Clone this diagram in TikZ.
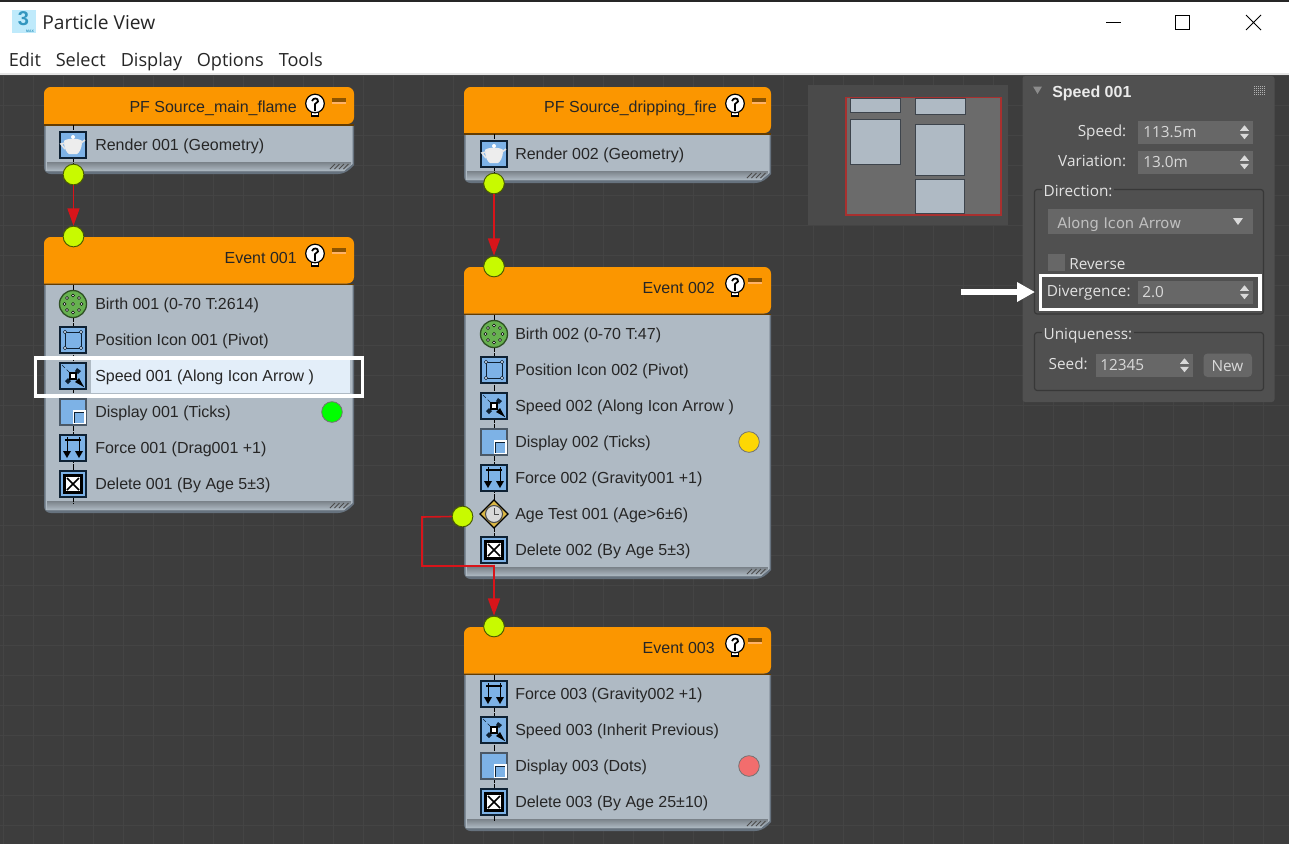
\documentclass[tikz,border=0pt]{standalone}
\usepackage{xcolor}
\usepackage{fontspec}
\setmainfont{Liberation Sans}
\newfontfamily\winfont{Open Sans}
\newfontfamily\rollfont{DejaVu Sans}
\usepackage{tikz}
\usetikzlibrary{arrows.meta}

\definecolor{viewbg}{HTML}{3D3D3D}
\definecolor{viewgrid}{HTML}{444444}
\definecolor{headorange}{HTML}{FB9600}
\definecolor{bodygrey}{HTML}{AFBAC4}
\definecolor{edgegrey}{HTML}{66727E}
\definecolor{portgreen}{HTML}{C8FA00}
\definecolor{iconblue}{HTML}{7DB2E6}
\definecolor{iconline}{HTML}{0E2133}
\definecolor{birthgreen}{HTML}{66B14F}
\definecolor{rowlight}{HTML}{E3EEF9}
\definecolor{mapbg}{HTML}{4A4A4A}
\definecolor{mapfield}{HTML}{6B6B6B}
\definecolor{mapred}{HTML}{A8302F}
\definecolor{rollbg}{HTML}{505050}
\definecolor{spinbg}{HTML}{676767}
\definecolor{rolltext}{HTML}{E2E2E2}
\definecolor{flowred}{HTML}{D8141A}

\tikzset{
	boxtitle/.style={anchor=east,inner sep=0.75pt,xshift=0.75pt,yshift=-1.1pt,font=\fontsize{12}{14}\selectfont,text=black!85},
	rowtext/.style={anchor=west,inner sep=0.75pt,xshift=-0.75pt,yshift=-1.1pt,font=\fontsize{12}{14}\selectfont,text=black!85},
	portdot/.style={circle,draw=black!40!portgreen!60!black,fill=portgreen,line width=0.7pt,minimum size=15.5pt,inner sep=0pt},
	statedot/.style={circle,draw=black!55,fill=#1,line width=0.6pt,minimum size=15.5pt,inner sep=0pt},
	flowline/.style={draw=flowred,line width=1.2pt,-{Triangle[length=13pt,width=9pt]}},
	iconframe/.style={draw=iconline,fill=iconblue,line width=1.5pt},
	markbox/.style={draw=white,line width=2.3pt},
	rolllabel/.style={inner sep=0.75pt,font=\winfont\fontsize{11.5}{14}\selectfont,text=rolltext},
	rollvalue/.style={anchor=base west,inner sep=0.75pt,font=\winfont\fontsize{11.5}{14}\selectfont,text=black!15},
	menutext/.style={anchor=base west,inner sep=0.75pt,font=\winfont\fontsize{13.6}{15}\selectfont,text=black!85},
	spinbox/.style={fill=spinbg},
	groupbox/.style={draw=black!78,rounded corners=2pt,line width=0.9pt},
}

% one flow box: left, top, right, header bottom, bottom
\newcommand{\flowbox}[5]{
	\fill[edgegrey] [rounded corners=5pt] (#1,#4) -- (#1,#5) -- (#3-9,#5) [sharp corners] -- (#3,#5-9) -- (#3,#4) -- cycle;
	\fill[bodygrey] (#1+1.5,#4) -- (#1+1.5,#5-3) -- (#3-10,#5-3) -- (#3-1.5,#5-10) -- (#3-1.5,#4) -- cycle;
	\shade[top color=black!30!bodygrey,bottom color=bodygrey] (#1+3,#5-12) -- (#1+3,#5-3) -- (#3-10,#5-3) -- (#3-3,#5-10) -- (#3-3,#5-12) -- cycle;
	\fill[headorange] [rounded corners=5pt] (#1,#4-1) -- (#1,#2) -- (#3,#2) -- (#3,#4-1) [sharp corners] -- cycle;
	\fill[black!60!headorange] (#1,#4-1) rectangle (#3,#4+0.5);
	\foreach \k in {0,1,2,3}
		\draw[black!70,line width=0.6pt] (#3-24+\k*4.5,#5-5) -- (#3-19+\k*4.5,#5-10);
}
% bulb and minimise mark of a header
\newcommand{\boxmarks}[4]{
	\draw[black,fill=white,line width=1pt] (#1-3.5,#2+4) rectangle (#1+3.5,#2+12);
	\draw[black,fill=white,line width=0.9pt] (#1,#2-0.5) circle (9.3);
	\draw[black,line width=1.3pt] (#1-3,#2-3) .. controls (#1-2,#2-6.5) and (#1+3.5,#2-6.5) .. (#1+3,#2-2.5) -- (#1,#2) -- (#1,#2+7);
	\fill[black!25!headorange!75!black] (#3-7,#4-3) rectangle (#3+7,#4+1);
	\fill[orange!60!white] (#3-7,#4+1) rectangle (#3+7,#4+3);
}
\newcommand{\rowwire}[3]{\draw[black,line width=0.5pt,dash pattern=on 4pt off 0.8pt] (#1,#2) -- (#1,#3);}

% row icons
\newcommand{\iconrender}[2]{\begin{scope}[shift={(#1,#2)}]
	\draw[iconframe] (-13,-13) rectangle (13,13);
	\fill[white!93!black] (-9,-4) .. controls (-7,-7) and (7,-7) .. (9,-4) .. controls (9,4) and (6,8) .. (4,9) -- (-4,9) .. controls (-6,8) and (-9,4) .. (-9,-4) -- cycle;
	\draw[white!90!black,line width=1.2pt] (8,-2) -- (12,-5) (-8,-2) -- (-12,-1) -- (-8,4);
	\fill[white] (0,-8) circle (2);
\end{scope}}
\newcommand{\iconbirth}[2]{\begin{scope}[shift={(#1,#2)}]
	\draw[draw=birthgreen!45!black,fill=birthgreen,line width=1pt] (0,0) circle (13.5);
	\foreach \a in {0,45,...,315}
		\draw[black,fill=white,line width=0.4pt] (\a:8.5) circle (1.5);
	\draw[black,fill=white,line width=0.4pt] (0,0) circle (1.5);
\end{scope}}
\newcommand{\iconposition}[2]{\begin{scope}[shift={(#1,#2)}]
	\draw[iconframe] (-13,-13) rectangle (13,13);
	\draw[iconline,line width=0.6pt] (-8,-8) rectangle (8,8);
	\foreach \i/\j in {-8/-8,8/-8,-8/8,8/8}
		\draw[iconline,fill=white!70!iconblue,line width=0.4pt] (\i,\j) circle (1.7);
\end{scope}}
\newcommand{\iconspeed}[2]{\begin{scope}[shift={(#1,#2)}]
	\draw[iconframe] (-13,-13) rectangle (13,13);
	\draw[iconline,line width=0.5pt,densely dashed] (-11,-11) -- (11,11);
	\fill[iconline] (4,-8) -- (8,-5) -- (5,-2) -- (2,-5) -- cycle (-8,5) -- (-5,2) -- (-2,5) -- (-5,8) -- cycle;
	\fill[black] (2,6) -- (6,2) -- (11,11) -- cycle;
	\draw[black,fill=white,line width=1.1pt] (-3,-3) rectangle (3,3);
\end{scope}}
\newcommand{\icondisplay}[2]{\begin{scope}[shift={(#1,#2)}]
	\draw[iconline!75,fill=iconblue,line width=1pt] (-13,-13) rectangle (13,13);
	\draw[draw=white,fill=iconblue,line width=1pt] (0.5,-1) rectangle (12,11.5);
	\draw[iconline,line width=1pt] (1.8,10.5) -- (1.8,0.3) -- (11,0.3);
\end{scope}}
\newcommand{\iconforce}[2]{\begin{scope}[shift={(#1,#2)}]
	\draw[iconframe] (-13,-13) rectangle (13,13);
	\draw[black,line width=0.8pt] (-8,-8) -- (8,-8);
	\foreach \i in {-6,6} {
		\draw[black,line width=0.7pt] (\i,-11) -- (\i,4);
		\fill[black] (\i-4,3) -- (\i+4,3) -- (\i,10) -- cycle;
	}
\end{scope}}
\newcommand{\icondelete}[2]{\begin{scope}[shift={(#1,#2)}]
	\draw[iconframe] (-13,-13) rectangle (13,13);
	\draw[black,fill=white,line width=2.2pt] (-8.5,-8.5) rectangle (8.5,8.5);
	\draw[black,line width=1.3pt] (-6,-6) -- (6,6) (-6,6) -- (6,-6);
\end{scope}}
\newcommand{\iconage}[2]{\begin{scope}[shift={(#1,#2)}]
	\draw[draw=black,fill=yellow!55!orange!80!white!85!black,line width=1pt] (-14,0) -- (0,-14) -- (14,0) -- (0,14) -- cycle;
	\draw[black!70,fill=white!85!black,line width=0.8pt] (0,0) circle (8.5);
	\draw[black!70,line width=0.7pt] (0,-6) -- (0,0) -- (5,0);
\end{scope}}
% spinner field: left, top, right, bottom
\newcommand{\spinfield}[4]{
	\fill[spinbox] (#1,#2) rectangle (#3,#4);
	\fill[black!15] (#3-13,{(#2+#4)/2-1.5}) -- (#3-4,{(#2+#4)/2-1.5}) -- (#3-8.5,{(#2+#4)/2-7}) -- cycle;
	\fill[black!15] (#3-13,{(#2+#4)/2+1.5}) -- (#3-4,{(#2+#4)/2+1.5}) -- (#3-8.5,{(#2+#4)/2+7}) -- cycle;
}

\begin{document}
\begin{tikzpicture}[x=0.75pt,y=0.75pt,yscale=-1]
	\useasboundingbox (0,0) rectangle (1289,844);

	% view background and its grid
	\fill[viewbg] (0,0) rectangle (1289,844);
	\foreach \i in {3,33,...,1293}
		\draw[viewgrid,line width=0.6pt] (\i,74) -- (\i,844);
	\foreach \j in {75,105,...,855}
		\draw[viewgrid,line width=0.6pt] (0,\j) -- (1289,\j);

	% window title bar and menu
	\fill[white] (0,1.5) rectangle (1289,73);
	\fill[black!10] (0,73) rectangle (1289,75);
	\fill[black!85] (0,0) rectangle (1289,1.5);
	\fill[cyan!25!white] (12,10) rectangle (36,33);
	\node[inner sep=0pt,font=\bfseries\fontsize{15}{15}\selectfont,text=cyan!50!teal] (logotext) at (23.5,19) {3};
	\node[inner sep=0pt,font=\bfseries\fontsize{2.6}{3}\selectfont,text=cyan!50!teal] (logomax) at (30,31.5) {MAX};
	\node[inner sep=0.75pt,anchor=base west,font=\winfont\fontsize{14.4}{16}\selectfont,text=black!85] (wintitle) at (41,29) {Particle View};
	\node[menutext] (menuedit) at (7.5,66) {Edit};
	\node[menutext] (menuselect) at (54.5,66) {Select};
	\node[menutext] (menudisplay) at (119.5,66) {Display};
	\node[menutext] (menuoptions) at (195.5,66) {Options};
	\node[menutext] (menutools) at (277.5,66) {Tools};
	\draw[black,line width=0.75pt] (1106,22) -- (1121,22);
	\draw[black,line width=0.75pt] (1175.5,15.5) rectangle (1189.5,29.5);
	\draw[black,line width=0.6pt] (1246,15) -- (1261,30) (1246,30) -- (1261,15);

	% flow boxes
	\flowbox{44}{87}{354}{125}{174}
	\flowbox{44}{237}{354}{284.5}{513}
	\flowbox{464}{87}{771}{134}{183}
	\flowbox{464}{267}{771}{314.5}{579}
	\flowbox{464}{627}{771}{674.5}{831}
	\boxmarks{315}{104}{339}{101}
	\boxmarks{315}{254}{339}{251}
	\boxmarks{735}{104}{759}{101}
	\boxmarks{735}{284}{755}{281}
	\boxmarks{735}{644}{755}{641}
	\node[boxtitle] (titlesrcA) at (297,107) {PF Source\_main\_flame};
	\node[boxtitle] (titleevA) at (297,257) {Event 001};
	\node[boxtitle] (titlesrcB) at (717,107) {PF Source\_dripping\_fire};
	\node[boxtitle] (titleevB) at (715,287) {Event 002};
	\node[boxtitle] (titleevC) at (715,647) {Event 003};

	% highlighted row
	\fill[rowlight] (91,360) rectangle (350,393);

	% wires behind the icons
	\rowwire{73}{125}{170}
	\rowwire{73}{285}{503}
	\rowwire{494}{134}{175}
	\rowwire{494}{315}{569}
	\rowwire{494}{675}{821}

	% rows of the first column
	\iconrender{73}{145}
	\node[rowtext] (rowrenderA) at (95,145) {Render 001 (Geometry)};
	\iconbirth{73}{304}
	\node[rowtext] (rowbirthA) at (95,304) {Birth 001 (0-70 T:2614)};
	\iconposition{73}{340}
	\node[rowtext] (rowposA) at (95,340) {Position Icon 001 (Pivot)};
	\iconspeed{73}{376}
	\node[rowtext] (rowspeedA) at (95,376) {Speed 001 (Along Icon Arrow )};
	\icondisplay{73}{412}
	\node[rowtext] (rowdispA) at (95,412) {Display 001 (Ticks)};
	\iconforce{73}{448}
	\node[rowtext] (rowforceA) at (95,448) {Force 001 (Drag001 +1)};
	\icondelete{73}{484}
	\node[rowtext] (rowdelA) at (95,484) {Delete 001 (By Age 5±3)};

	% rows of the second column
	\iconrender{494}{154}
	\node[rowtext] (rowrenderB) at (515,154) {Render 002 (Geometry)};
	\iconbirth{494}{334}
	\node[rowtext] (rowbirthB) at (515,334) {Birth 002 (0-70 T:47)};
	\iconposition{494}{370}
	\node[rowtext] (rowposB) at (515,370) {Position Icon 002 (Pivot)};
	\iconspeed{494}{406}
	\node[rowtext] (rowspeedB) at (515,406) {Speed 002 (Along Icon Arrow )};
	\icondisplay{494}{442}
	\node[rowtext] (rowdispB) at (515,442) {Display 002 (Ticks)};
	\iconforce{494}{478}
	\node[rowtext] (rowforceB) at (515,478) {Force 002 (Gravity001 +1)};
	\iconage{494}{514}
	\node[rowtext] (rowage) at (515,514) {Age Test 001 (Age>6±6)};
	\icondelete{494}{550}
	\node[rowtext] (rowdelB) at (515,550) {Delete 002 (By Age 5±3)};
	\iconforce{494}{694}
	\node[rowtext] (rowforceC) at (515,694) {Force 003 (Gravity002 +1)};
	\iconspeed{494}{730}
	\node[rowtext] (rowspeedC) at (515,730) {Speed 003 (Inherit Previous)};
	\icondisplay{494}{766}
	\node[rowtext] (rowdispC) at (515,766) {Display 003 (Dots)};
	\icondelete{494}{802}
	\node[rowtext] (rowdelC) at (515,802) {Delete 003 (By Age 25±10)};

	% display colours
	\node[statedot=green] (dotA) at (332,412) {};
	\node[statedot=yellow!75!orange] (dotB) at (749,442) {};
	\node[statedot=red!55!white!95!black] (dotC) at (749,766) {};

	% ports and the wires between them
	\node[portdot] (outA) at (73.5,174.5) {};
	\node[portdot] (inA) at (73.5,236.5) {};
	\node[portdot] (outB) at (494,183.5) {};
	\node[portdot] (inB) at (494,266.5) {};
	\node[portdot] (outage) at (462.5,516.5) {};
	\node[portdot] (inC) at (494,626.5) {};
	\coordinate (elbowup) at (422,517);
	\coordinate (elbowdown) at (494,566);
	\draw[flowline] (outA) -- (inA);
	\draw[flowline] (outB) -- (inB);
	\draw[flowline] (outage.west) -- (elbowup) |- (elbowdown) -- (inC);

	% selection mark on the row
	\draw[markbox] (35.5,358) rectangle (362.5,396);

	% overview map
	\fill[mapbg] (808,85) rectangle (1008,225);
	\draw[draw=mapred,fill=mapfield,line width=1.2pt] (846,97.5) rectangle (1001,215);
	\foreach \a/\b/\c/\d in {850/98/900.5/112.5,915/98/965.5/114,850/119.5/900.5/164.5,915/124.5/964.5/175,915/179.5/964.5/213.5}
		\draw[draw=edgegrey!60!black,fill=bodygrey,line width=0.5pt] (\a,\b) rectangle (\c,\d);

	% parameter rollout
	\fill[rollbg] [rounded corners=2pt] (1022.5,76) rectangle (1274.5,402);
	\fill[black!45] (1033,86.5) -- (1042,86.5) -- (1037.5,94) -- cycle;
	\node[inner sep=0.75pt,anchor=base west,font=\bfseries\fontsize{12}{14}\selectfont,text=white!92!black] (rolltitle) at (1051,97) {Speed 001};
	\foreach \i in {0,2,...,10}
		\foreach \j in {0,2,...,8}
			\fill[black!30] (1254+\i,85.5+\j) rectangle ++(1,1);

	\spinfield{1137.5}{120.5}{1253}{144}
	\node[rolllabel,anchor=base east] (speedlabel) at (1127.5,136) {Speed:};
	\node[rollvalue] (speedvalue) at (1142,137.5) {113.5m};
	\spinfield{1137.5}{150.5}{1253}{174}
	\node[rolllabel,anchor=base east] (varlabel) at (1127.5,166) {Variation:};
	\node[rollvalue] (varvalue) at (1142,167) {13.0m};

	\draw[groupbox] (1034.5,189.5) rectangle (1263.5,314);
	\node[rolllabel,anchor=base west,fill=rollbg,inner xsep=1pt] (dirlabel) at (1042,196) {Direction:};
	\fill[spinbox] (1047.5,209) rectangle (1253,234);
	\node[anchor=base west,inner sep=0.75pt,font=\rollfont\fontsize{11}{13}\selectfont,text=black!25] (dirvalue) at (1056,228) {Along Icon Arrow};
	\fill[black!15] (1233,218) -- (1243,218) -- (1238,225) -- cycle;
	\fill[spinbg] (1047.5,253.5) rectangle (1064.5,270.5);
	\node[rolllabel,anchor=base west] (revlabel) at (1068,269) {Reverse};
	\spinfield{1137.5}{280.5}{1253}{304}
	\node[rolllabel,anchor=base west] (divlabel) at (1045.5,296) {Divergence:};
	\node[rollvalue] (divvalue) at (1141,297) {2.0};

	\draw[groupbox] (1034.5,332.5) rectangle (1263.5,390.5);
	\node[rolllabel,anchor=base west,fill=rollbg,inner xsep=1pt] (uniqlabel) at (1042,339) {Uniqueness:};
	\spinfield{1095.5}{353.5}{1193}{377}
	\node[rolllabel,anchor=base east] (seedlabel) at (1089,369) {Seed:};
	\node[rollvalue] (seedvalue) at (1099,370) {12345};
	\fill[spinbg] [rounded corners=3pt] (1203.5,353.5) rectangle (1252,377);
	\node[rollvalue,anchor=base] (newbutton) at (1227.5,371.5) {New};

	% divergence mark and its arrow
	\draw[markbox] (1040.5,275.5) rectangle (1260,309.5);
	\coordinate (markstart) at (961,292);
	\coordinate (markend) at (1035,292);
	\draw[white,line width=4pt,-{Triangle[length=13.5pt,width=14pt]}] (markstart) -- (markend);
\end{tikzpicture}
\end{document}
